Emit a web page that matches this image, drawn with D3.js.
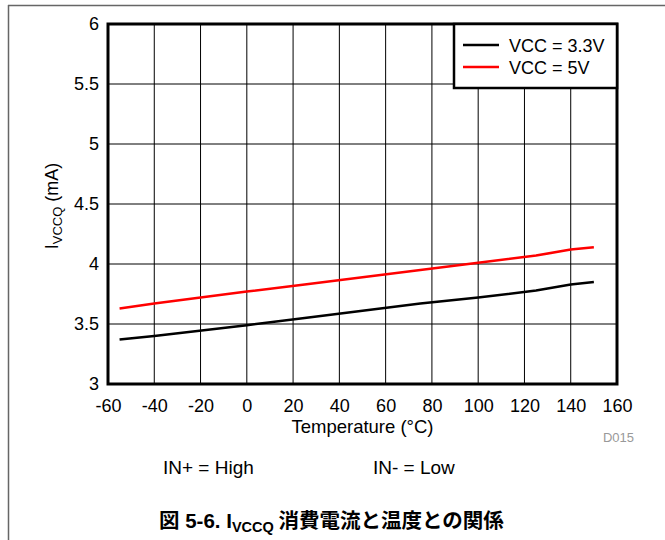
<!DOCTYPE html>
<html><head><meta charset="utf-8">
<script src="https://cdn.jsdelivr.net/npm/d3@7"></script>
<style>body{margin:0;background:#fff}svg{display:block}</style>
</head><body>
<script>
const temps = [-55, -40, 0, 25, 50, 75, 100, 125, 140, 150];
const vcc33 = [3.37, 3.40, 3.49, 3.55, 3.61, 3.67, 3.72, 3.78, 3.83, 3.85];
const vcc5  = [3.63, 3.67, 3.77, 3.83, 3.89, 3.95, 4.01, 4.07, 4.12, 4.14];
const xTicks = [-60,-40,-20,0,20,40,60,80,100,120,140,160];
const yTicks = [3,3.5,4,4.5,5,5.5,6];
const seriesNames = ["VCC = 3.3V", "VCC = 5V"];
const seriesColors = ["#000000", "#ff0000"];

const W = 665, H = 540;
const FONT = "'Liberation Sans', Arial, sans-serif";
const m = {left:108, right:617, top:24, bottom:384};
const svg = d3.select("body").append("svg").attr("width", W).attr("height", H)
  .style("font-family", FONT);

// page frame
svg.append("line").attr("x1",8).attr("x2",W).attr("y1",5.5).attr("y2",5.5).attr("stroke","#666").attr("stroke-width",1.5);
svg.append("line").attr("x1",8.5).attr("x2",8.5).attr("y1",5).attr("y2",H).attr("stroke","#666").attr("stroke-width",1.5);

const x = d3.scaleLinear().domain([-60,160]).range([m.left, m.right]);
const y = d3.scaleLinear().domain([3,6]).range([m.bottom, m.top]);

// grid
svg.append("g").selectAll("line").data(xTicks.slice(1,-1)).join("line")
  .attr("x1", d=>x(d)).attr("x2", d=>x(d)).attr("y1", m.top).attr("y2", m.bottom)
  .attr("stroke","#000").attr("stroke-width",1);
svg.append("g").selectAll("line").data(yTicks.slice(1,-1)).join("line")
  .attr("x1", m.left).attr("x2", m.right).attr("y1", d=>y(d)).attr("y2", d=>y(d))
  .attr("stroke","#000").attr("stroke-width",1);

// axes labels via d3 axes
const xAxis = svg.append("g").attr("transform", `translate(0,${m.bottom})`)
  .call(d3.axisBottom(x).tickValues(xTicks).tickSize(0).tickPadding(15).tickFormat(d=>String(d)));
xAxis.select(".domain").remove();
xAxis.selectAll("text").attr("font-size",18).attr("fill","#000").style("font-family",FONT);
const yAxis = svg.append("g").attr("transform", `translate(${m.left},0)`)
  .call(d3.axisLeft(y).tickValues(yTicks).tickSize(0).tickPadding(9).tickFormat(d=>String(d)));
yAxis.select(".domain").remove();
yAxis.selectAll("text").attr("font-size",18).attr("fill","#000").style("font-family",FONT);

// lines
const line = d3.line().x((d,i)=>x(temps[i])).y(d=>y(d));
[vcc33, vcc5].forEach((s,k)=>{
  svg.append("path").datum(s).attr("d", line).attr("fill","none")
    .attr("stroke", seriesColors[k]).attr("stroke-width",2.5);
});

// plot border
svg.append("rect").attr("x", m.left).attr("y", m.top).attr("width", m.right-m.left).attr("height", m.bottom-m.top)
  .attr("fill","none").attr("stroke","#000").attr("stroke-width",3);

// legend
const lg = svg.append("g");
lg.append("rect").attr("x",454).attr("y",m.top).attr("width",m.right-454).attr("height",64)
  .attr("fill","#fff").attr("stroke","#000").attr("stroke-width",2.5);
seriesNames.forEach((n,k)=>{
  const yy = 45 + k*22;
  lg.append("line").attr("x1",463).attr("x2",499).attr("y1",yy).attr("y2",yy)
    .attr("stroke", seriesColors[k]).attr("stroke-width",2.5);
  lg.append("text").attr("x",509).attr("y",yy+6.5).attr("font-size",18).text(n);
});

// axis titles
svg.append("text").attr("x", (m.left+m.right)/2).attr("y", 433).attr("text-anchor","middle")
  .attr("font-size",18.5).text("Temperature (°C)");
const yt = svg.append("text").attr("transform","translate(58,206) rotate(-90)").attr("text-anchor","middle").attr("font-size",18);
yt.append("tspan").text("I");
yt.append("tspan").attr("font-size",13).attr("dy",4).text("VCCQ");
yt.append("tspan").attr("dy",-4).text(" (mA)");

svg.append("text").attr("x",634).attr("y",442).attr("text-anchor","end").attr("font-size",13).attr("fill","#999").text("D015");

svg.append("text").attr("x",163).attr("y",474).attr("font-size",19).text("IN+ = High");
svg.append("text").attr("x",373).attr("y",474).attr("font-size",19).text("IN- = Low");

// caption
const cap = svg.append("text").attr("x",159).attr("y",528).attr("font-size",20.5).attr("font-weight","bold")
  .style("font-family","'Liberation Sans', 'Noto Sans CJK JP', sans-serif");
cap.append("tspan").style("font-family","'Noto Sans CJK JP'").text("図");
cap.append("tspan").text(" 5-6. I");
cap.append("tspan").attr("font-size",14.5).attr("dy",4).text("VCCQ");
cap.append("tspan").attr("dy",-4).style("font-family","'Noto Sans CJK JP'").text(" 消費電流と温度との関係");
</script>
</body></html>
